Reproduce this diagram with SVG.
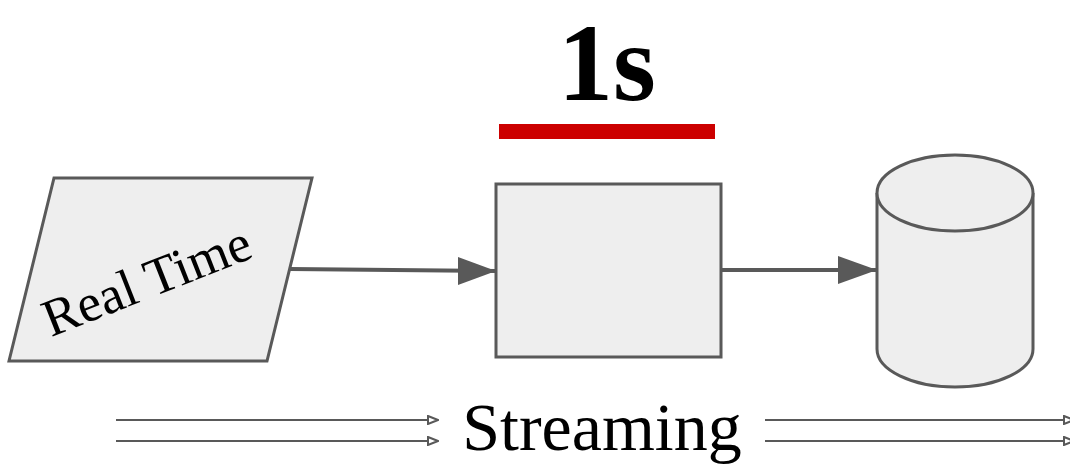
<svg xmlns="http://www.w3.org/2000/svg" width="1070" height="467" viewBox="0 0 1070 467">
<style>
.shape{fill:#eeeeee;stroke:#595959;stroke-width:3}
.conn{stroke:#595959;stroke-width:4;fill:none}
.thin{stroke:#595959;stroke-width:2;fill:none}
.serif{font-family:"Liberation Serif","DejaVu Serif",serif;fill:#000}
</style>
<defs>
<marker id="open" viewBox="0 0 12 10" refX="11" refY="5" markerWidth="12" markerHeight="10" markerUnits="userSpaceOnUse" orient="auto">
<path d="M1,1 L11,5 L1,9 Z" fill="#fff" stroke="#595959" stroke-width="2"/>
</marker>
</defs>
<rect width="1070" height="467" fill="#fff"/>
<g id="title">
<text class="serif" x="607" y="100" font-size="110" font-weight="bold" text-anchor="middle">1s</text>
<rect x="499" y="124" width="216" height="15" fill="#cc0000"/>
</g>
<g id="realtime">
<polygon class="shape" points="54,178 312,178 267,361 9,361"/>
<text class="serif" font-size="53" text-anchor="middle" transform="translate(153,297) rotate(-21.5)">Real Time</text>
</g>
<g id="process">
<rect class="shape" x="496" y="184" width="225" height="173"/>
</g>
<g id="storage">
<path class="shape" d="M877,193 L877,349 A78,38 0 0 0 1033,349 L1033,193 A78,38 0 0 0 877,193 Z"/>
<path class="shape" d="M877,193 A78,38 0 0 0 1033,193" fill="none"/>
</g>
<g id="streaming">
<text class="serif" x="602" y="450" font-size="68" text-anchor="middle">Streaming</text>
</g>
<g id="connectors">
<line class="conn" x1="290" y1="269" x2="496" y2="271"/>
<path d="M458,257 L496,271 L458,285 Z" fill="#595959"/>
<line class="conn" x1="722" y1="270" x2="877" y2="270"/>
<path d="M838,256 L877,270 L838,284 Z" fill="#595959"/>
<line class="thin" x1="116" y1="420" x2="438" y2="420" marker-end="url(#open)"/>
<line class="thin" x1="116" y1="441" x2="438" y2="441" marker-end="url(#open)"/>
<line class="thin" x1="765" y1="420" x2="1074" y2="420" marker-end="url(#open)"/>
<line class="thin" x1="765" y1="441" x2="1074" y2="441" marker-end="url(#open)"/>
</g>
</svg>
